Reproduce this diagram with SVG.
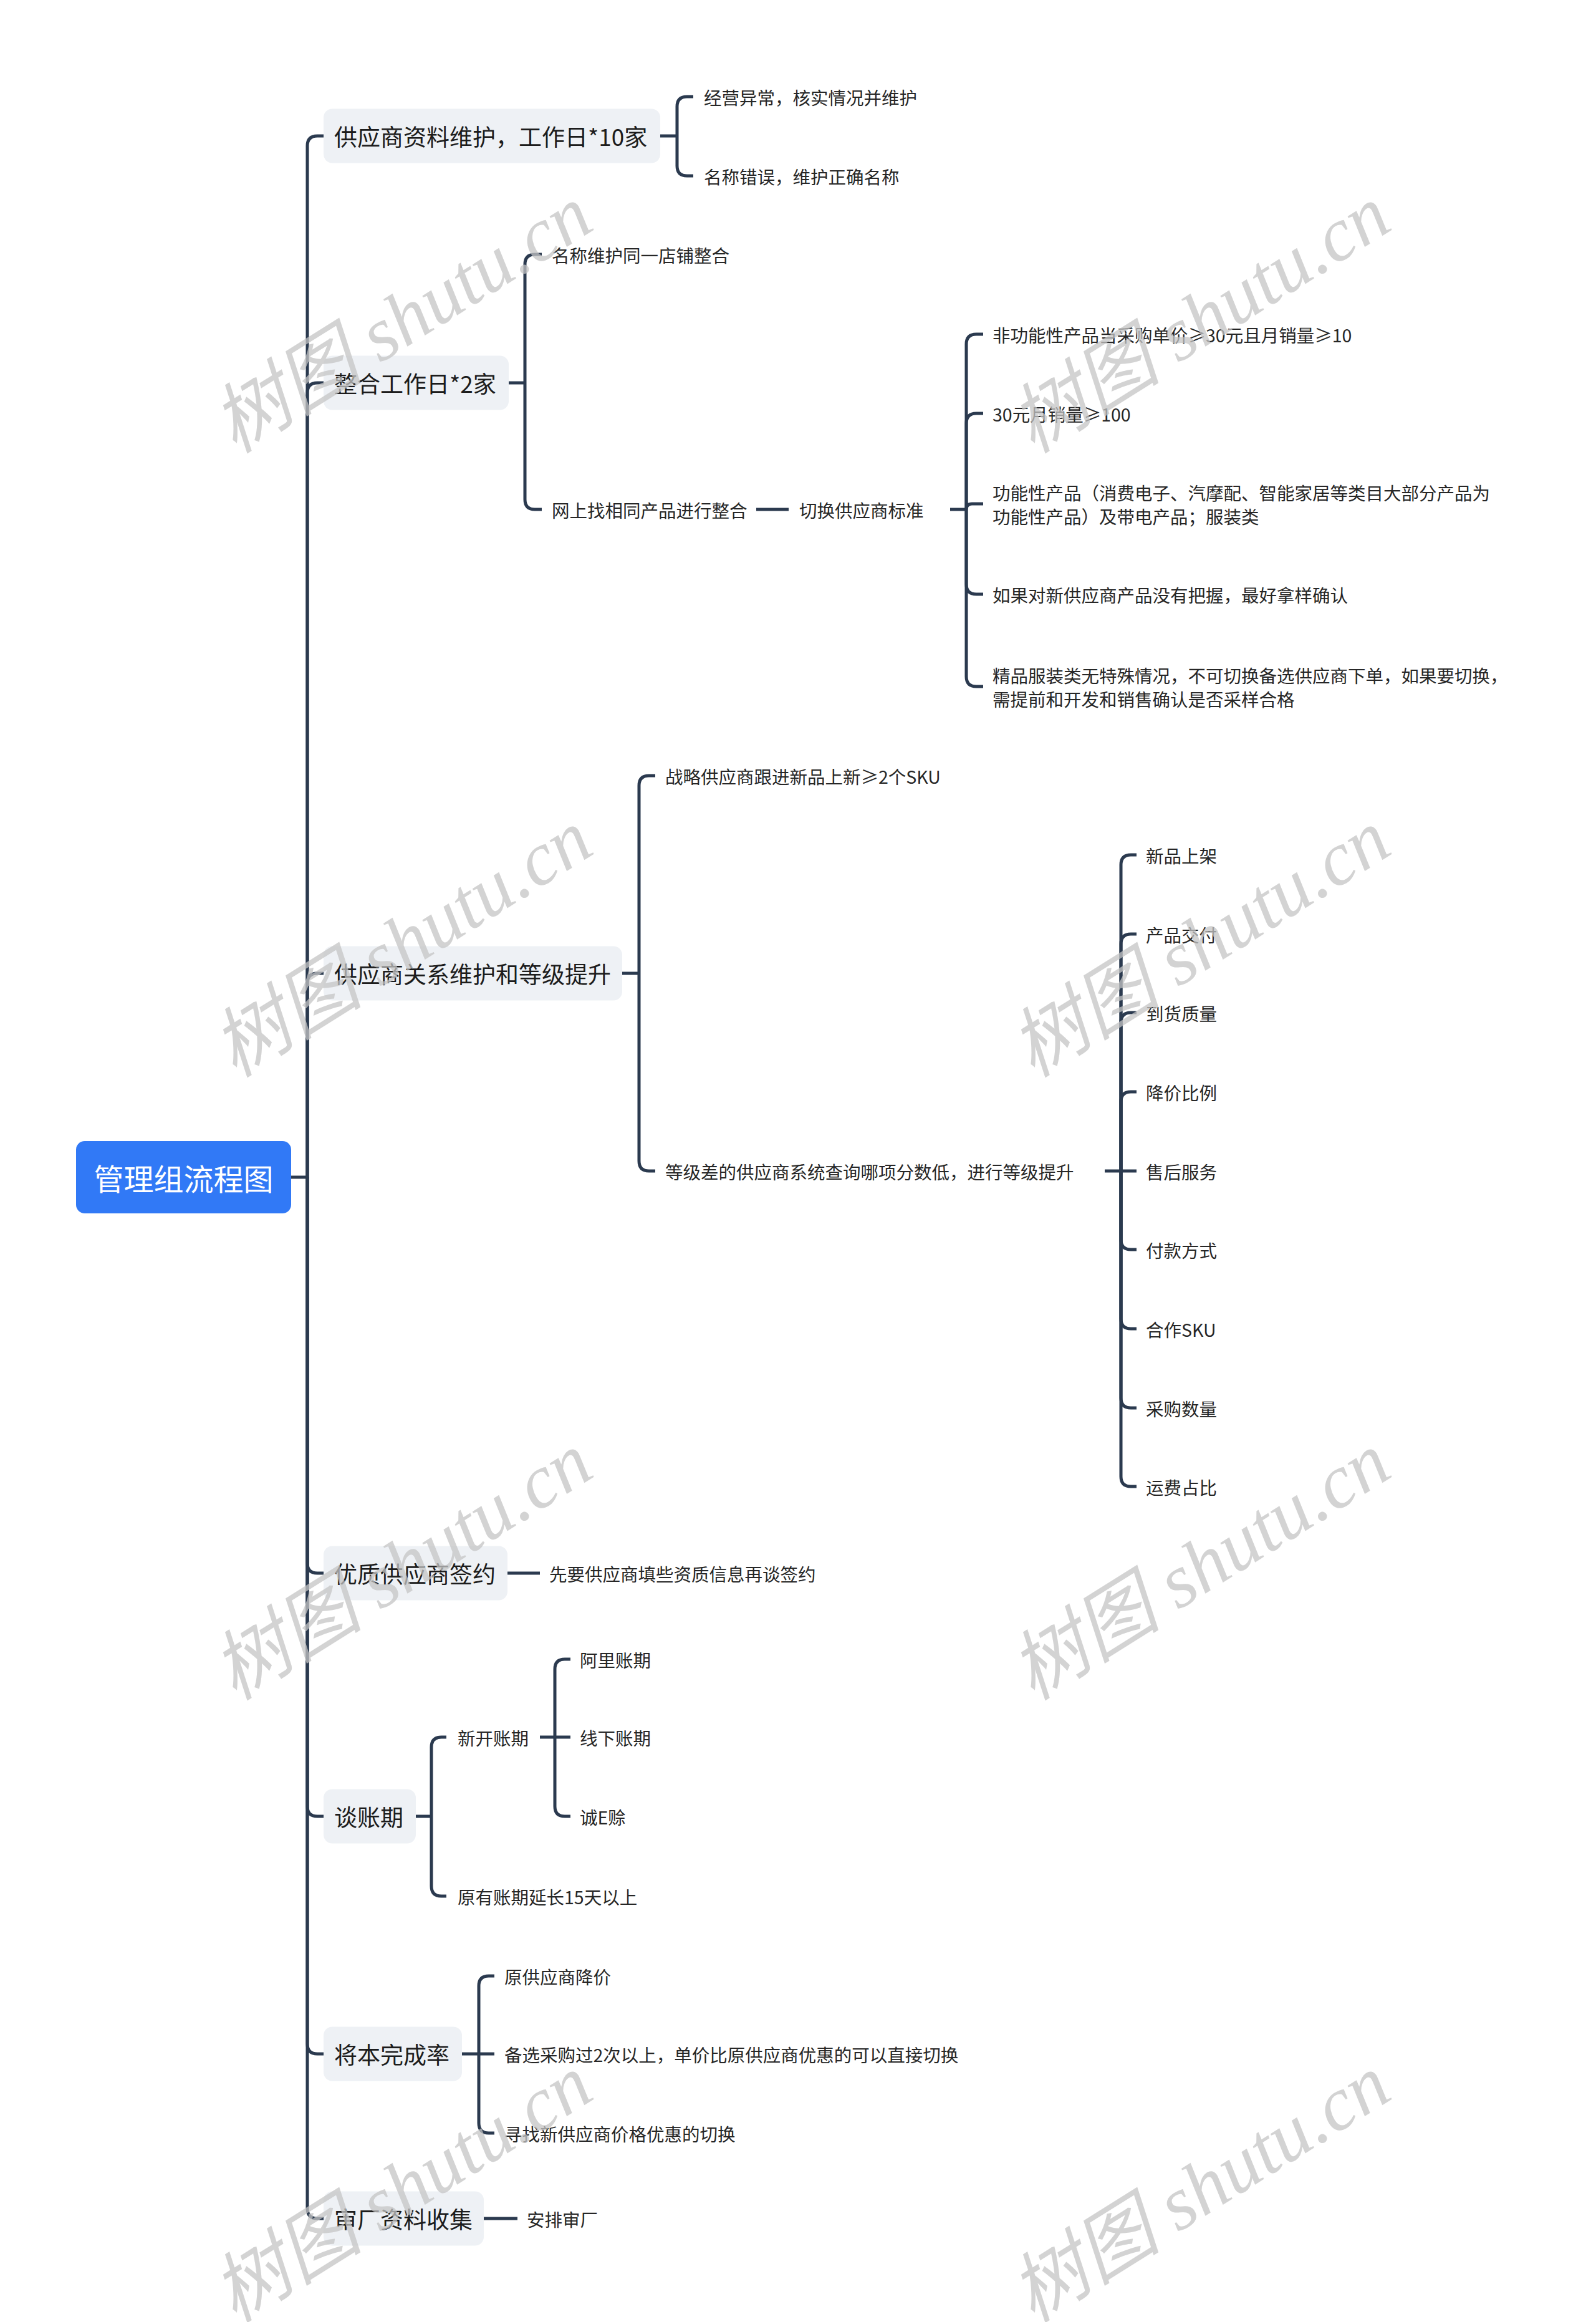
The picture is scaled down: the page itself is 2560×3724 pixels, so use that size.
<svg xmlns="http://www.w3.org/2000/svg" width="2560" height="3724" viewBox="0 0 2560 3724">
<style>
.bg{fill:#ffffff}
.c path{fill:none;stroke:#2b3a4f;stroke-width:5;stroke-linecap:butt;stroke-linejoin:round}
.box{fill:#eef1f5}
.root{fill:#3179f6}
text{font-family:"Noto Sans CJK SC","Liberation Sans",sans-serif;dominant-baseline:central}
.rt{font-size:48px;fill:#ffffff;text-anchor:middle}
.t1{font-size:37px;fill:#1c1c1c}
.t2{font-size:28.5px;fill:#262626}
.wm{font-family:"Liberation Serif","Noto Sans CJK SC",serif;font-style:italic;font-size:122px;fill:#c4c4c4;fill-opacity:0.75;text-anchor:middle}
</style>
<rect class="bg" x="0" y="0" width="2560" height="3724"/>

<g id="connectors" class="c">
  <!-- root to level 1 -->
  <path d="M467 1888 H493"/>
  <path d="M493 1888 V234 Q493 218 509 218 H519"/>
  <path d="M493 1888 V630 Q493 614 509 614 H519"/>
  <path d="M493 1888 V1577 Q493 1561 509 1561 H519"/>
  <path d="M493 1888 V2507 Q493 2523 509 2523 H519"/>
  <path d="M493 1888 V2897 Q493 2913 509 2913 H519"/>
  <path d="M493 1888 V3278 Q493 3294 509 3294 H519"/>
  <path d="M493 1888 V3542 Q493 3558 509 3558 H519"/>
  <!-- node 1 -->
  <path d="M1059 218 H1086"/>
  <path d="M1086 218 V171 Q1086 155 1102 155 H1112"/>
  <path d="M1086 218 V266 Q1086 282 1102 282 H1112"/>
  <!-- node 2 -->
  <path d="M816 614 H842"/>
  <path d="M842 614 V424 Q842 408 858 408 H869"/>
  <path d="M842 614 V801 Q842 817 858 817 H869"/>
  <path d="M1213 817 H1265"/>
  <path d="M1524 817 H1550"/>
  <path d="M1550 817 V552 Q1550 536 1566 536 H1577"/>
  <path d="M1550 817 V679 Q1550 663 1566 663 H1577"/>
  <path d="M1550 817 Q1550 808 1559 808 H1577"/>
  <path d="M1550 817 V937 Q1550 953 1566 953 H1577"/>
  <path d="M1550 817 V1085 Q1550 1101 1566 1101 H1577"/>
  <!-- node 3 -->
  <path d="M998 1561 H1025"/>
  <path d="M1025 1561 V1260 Q1025 1244 1041 1244 H1051"/>
  <path d="M1025 1561 V1862 Q1025 1878 1041 1878 H1051"/>
  <path d="M1772 1878 H1798"/>
  <path d="M1798 1878 V1387 Q1798 1371 1814 1371 H1823"/>
  <path d="M1798 1878 V1514 Q1798 1498 1814 1498 H1823"/>
  <path d="M1798 1878 V1640 Q1798 1624 1814 1624 H1823"/>
  <path d="M1798 1878 V1767 Q1798 1751 1814 1751 H1823"/>
  <path d="M1798 1878 H1823"/>
  <path d="M1798 1878 V1988 Q1798 2004 1814 2004 H1823"/>
  <path d="M1798 1878 V2115 Q1798 2131 1814 2131 H1823"/>
  <path d="M1798 1878 V2242 Q1798 2258 1814 2258 H1823"/>
  <path d="M1798 1878 V2368 Q1798 2384 1814 2384 H1823"/>
  <!-- node 4 -->
  <path d="M814 2523 H866"/>
  <!-- node 5 -->
  <path d="M667 2913 H692"/>
  <path d="M692 2913 V2802 Q692 2786 708 2786 H716"/>
  <path d="M692 2913 V3025 Q692 3041 708 3041 H716"/>
  <path d="M866 2786 H890"/>
  <path d="M890 2786 V2677 Q890 2661 906 2661 H915"/>
  <path d="M890 2786 H915"/>
  <path d="M890 2786 V2897 Q890 2913 906 2913 H915"/>
  <!-- node 6 -->
  <path d="M741 3294 H768"/>
  <path d="M768 3294 V3185 Q768 3169 784 3169 H793"/>
  <path d="M768 3294 H793"/>
  <path d="M768 3294 V3405 Q768 3421 784 3421 H793"/>
  <!-- node 7 -->
  <path d="M776 3558 H830"/>
</g>

<g id="root">
  <rect class="root" x="122" y="1830" width="345" height="116" rx="14"/>
  <text class="rt" x="294.5" y="1888">管理组流程图</text>
</g>

<g id="n1">
  <rect class="box" x="519" y="174.5" width="540" height="87" rx="14"/>
  <text class="t1" x="536" y="218">供应商资料维护，工作日*10家</text>
</g>
<g id="n1-1"><text class="t2" x="1129" y="155">经营异常，核实情况并维护</text></g>
<g id="n1-2"><text class="t2" x="1129" y="282">名称错误，维护正确名称</text></g>

<g id="n2">
  <rect class="box" x="519" y="570.5" width="297" height="87" rx="14"/>
  <text class="t1" x="536" y="614">整合工作日*2家</text>
</g>
<g id="n2-1"><text class="t2" x="885" y="408">名称维护同一店铺整合</text></g>
<g id="n2-2"><text class="t2" x="885" y="817">网上找相同产品进行整合</text></g>
<g id="n2-2-1"><text class="t2" x="1282" y="817">切换供应商标准</text></g>
<g id="n2-2-1-1"><text class="t2" x="1592" y="536">非功能性产品当采购单价≥30元且月销量≥10</text></g>
<g id="n2-2-1-2"><text class="t2" x="1592" y="663">30元月销量≥100</text></g>
<g id="n2-2-1-3">
  <text class="t2" x="1592" y="789">功能性产品（消费电子、汽摩配、智能家居等类目大部分产品为</text>
  <text class="t2" x="1592" y="827">功能性产品）及带电产品；服装类</text>
</g>
<g id="n2-2-1-4"><text class="t2" x="1592" y="953">如果对新供应商产品没有把握，最好拿样确认</text></g>
<g id="n2-2-1-5">
  <text class="t2" x="1592" y="1082">精品服装类无特殊情况，不可切换备选供应商下单，如果要切换，</text>
  <text class="t2" x="1592" y="1120">需提前和开发和销售确认是否采样合格</text>
</g>

<g id="n3">
  <rect class="box" x="519" y="1517.5" width="479" height="87" rx="14"/>
  <text class="t1" x="536" y="1561">供应商关系维护和等级提升</text>
</g>
<g id="n3-1"><text class="t2" x="1067" y="1244">战略供应商跟进新品上新≥2个SKU</text></g>
<g id="n3-2"><text class="t2" x="1067" y="1878">等级差的供应商系统查询哪项分数低，进行等级提升</text></g>
<g id="n3-2-1"><text class="t2" x="1838" y="1371">新品上架</text></g>
<g id="n3-2-2"><text class="t2" x="1838" y="1498">产品交付</text></g>
<g id="n3-2-3"><text class="t2" x="1838" y="1624">到货质量</text></g>
<g id="n3-2-4"><text class="t2" x="1838" y="1751">降价比例</text></g>
<g id="n3-2-5"><text class="t2" x="1838" y="1878">售后服务</text></g>
<g id="n3-2-6"><text class="t2" x="1838" y="2004">付款方式</text></g>
<g id="n3-2-7"><text class="t2" x="1838" y="2131">合作SKU</text></g>
<g id="n3-2-8"><text class="t2" x="1838" y="2258">采购数量</text></g>
<g id="n3-2-9"><text class="t2" x="1838" y="2384">运费占比</text></g>

<g id="n4">
  <rect class="box" x="519" y="2479.5" width="295" height="87" rx="14"/>
  <text class="t1" x="536" y="2523">优质供应商签约</text>
</g>
<g id="n4-1"><text class="t2" x="881" y="2523">先要供应商填些资质信息再谈签约</text></g>

<g id="n5">
  <rect class="box" x="519" y="2869.5" width="148" height="87" rx="14"/>
  <text class="t1" x="536" y="2913">谈账期</text>
</g>
<g id="n5-1"><text class="t2" x="734" y="2786">新开账期</text></g>
<g id="n5-1-1"><text class="t2" x="930" y="2661">阿里账期</text></g>
<g id="n5-1-2"><text class="t2" x="930" y="2786">线下账期</text></g>
<g id="n5-1-3"><text class="t2" x="930" y="2913">诚E赊</text></g>
<g id="n5-2"><text class="t2" x="734" y="3041">原有账期延长15天以上</text></g>

<g id="n6">
  <rect class="box" x="519" y="3250.5" width="222" height="87" rx="14"/>
  <text class="t1" x="536" y="3294">将本完成率</text>
</g>
<g id="n6-1"><text class="t2" x="809" y="3169">原供应商降价</text></g>
<g id="n6-2"><text class="t2" x="809" y="3294">备选采购过2次以上，单价比原供应商优惠的可以直接切换</text></g>
<g id="n6-3"><text class="t2" x="809" y="3421">寻找新供应商价格优惠的切换</text></g>

<g id="n7">
  <rect class="box" x="519" y="3514.5" width="257" height="87" rx="14"/>
  <text class="t1" x="536" y="3558">审厂资料收集</text>
</g>
<g id="n7-1"><text class="t2" x="845" y="3558">安排审厂</text></g>

<g id="watermarks">
  <text class="wm" x="645" y="512" transform="rotate(-32 645 512)">树图 shutu.cn</text>
  <text class="wm" x="1925" y="512" transform="rotate(-32 1925 512)">树图 shutu.cn</text>
  <text class="wm" x="645" y="1513" transform="rotate(-32 645 1513)">树图 shutu.cn</text>
  <text class="wm" x="1925" y="1513" transform="rotate(-32 1925 1513)">树图 shutu.cn</text>
  <text class="wm" x="645" y="2512" transform="rotate(-32 645 2512)">树图 shutu.cn</text>
  <text class="wm" x="1925" y="2512" transform="rotate(-32 1925 2512)">树图 shutu.cn</text>
  <text class="wm" x="645" y="3510" transform="rotate(-32 645 3510)">树图 shutu.cn</text>
  <text class="wm" x="1925" y="3510" transform="rotate(-32 1925 3510)">树图 shutu.cn</text>
</g>
</svg>
